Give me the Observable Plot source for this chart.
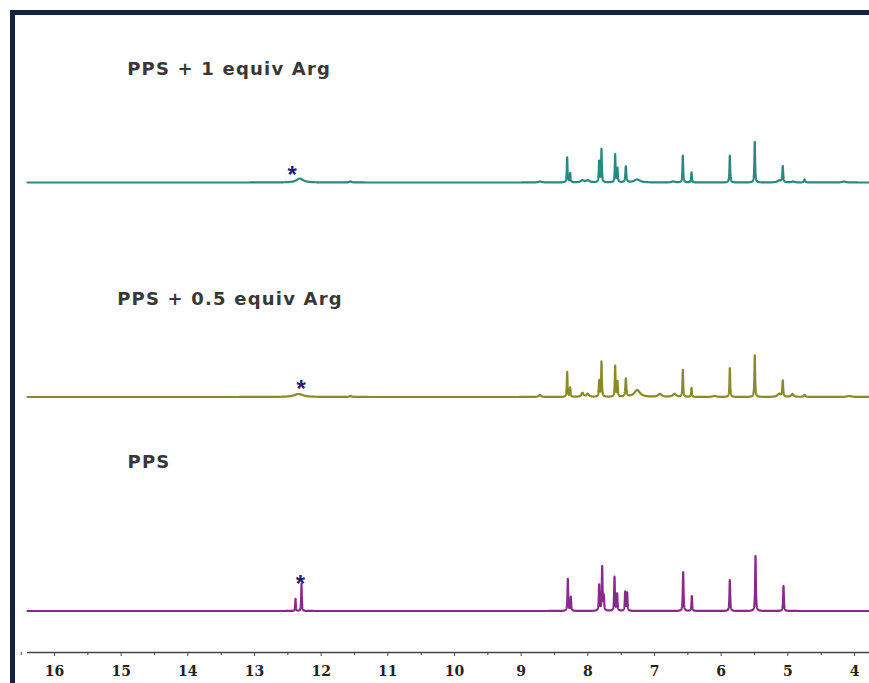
<!DOCTYPE html>
<html>
<head>
<meta charset="utf-8">
<script src="https://cdn.jsdelivr.net/npm/d3@7"></script>
<script src="https://cdn.jsdelivr.net/npm/@observablehq/plot@0.6"></script>
<style>
  html, body { margin: 0; padding: 0; background: #fff; }
  #wrap { position: relative; width: 869px; height: 683px; overflow: hidden; }
  #frame { position: absolute; left: 10px; top: 10px; right: -10px; bottom: -10px;
           border-top: 5px solid #14243f; border-left: 5px solid #14243f; pointer-events: none; }
  #chart { position: absolute; left: 0; top: 0; }
  .lbl text { letter-spacing: 1.2px; }
</style>
</head>
<body>
<div id="wrap"><div id="chart"></div><div id="frame"></div></div>
<script>
// Sample names
const samples = ["PPS + 1 equiv Arg", "PPS + 0.5 equiv Arg", "PPS"];
const colors = ["#2b8782", "#8a8a2c", "#872a8a"];
// Vertical offsets of each trace's baseline (intensity units)
const offsets = [470, 255.5, 41.5];

// Peaks: [ppm, height, half-width (ppm)]
const peaksArg1 = [
  [12.32, 4, 0.06], [11.56, 1, 0.02], [8.715, 1, 0.03],
  [8.31, 25, 0.006], [8.265, 9, 0.006], [8.08, 2, 0.03], [8.0, 2, 0.03],
  [7.83, 21, 0.006], [7.795, 33, 0.006], [7.59, 28, 0.006], [7.555, 14, 0.006],
  [7.43, 16, 0.008], [7.26, 3, 0.05], [6.72, 1, 0.03],
  [6.575, 27, 0.006], [6.445, 10, 0.006], [5.87, 27, 0.006], [5.496, 41, 0.006],
  [5.13, 2, 0.03], [5.076, 16, 0.007], [4.92, 1, 0.02], [4.75, 3, 0.01], [4.16, 1, 0.03]
];
const peaksArg05 = [
  [12.34, 3, 0.08], [11.56, 1, 0.02], [8.72, 2, 0.02],
  [8.31, 25, 0.006], [8.265, 9, 0.006], [8.08, 4, 0.02], [8.0, 3, 0.02],
  [7.83, 16, 0.006], [7.795, 35, 0.006], [7.59, 31, 0.006], [7.555, 15, 0.006],
  [7.43, 18, 0.008], [7.26, 7, 0.05], [6.92, 3, 0.03], [6.70, 3, 0.03],
  [6.575, 27, 0.006], [6.445, 9, 0.006], [6.1, 1, 0.03], [5.87, 29, 0.006],
  [5.496, 42, 0.006], [5.13, 3, 0.03], [5.076, 16, 0.007], [4.93, 3, 0.02],
  [4.75, 2, 0.015], [4.08, 1, 0.04]
];
const peaksPPS = [
  [12.385, 12, 0.005], [12.295, 27, 0.005],
  [8.30, 32, 0.006], [8.255, 14, 0.006], [7.83, 26, 0.006], [7.785, 44, 0.006],
  [7.76, 14, 0.006], [7.60, 34, 0.006], [7.56, 17, 0.006], [7.44, 19, 0.006],
  [7.41, 18, 0.006], [6.57, 39, 0.006], [6.44, 15, 0.006], [5.87, 31, 0.006],
  [5.485, 55, 0.006], [5.065, 25, 0.006]
];
const peakSets = [peaksArg1, peaksArg05, peaksPPS];

// Asterisk markers (ppm, intensity level)
const starPpm = [12.435, 12.30, 12.31];
const starLevel = [484, 269.7, 75];

// Axis ticks
const majorTicks = [16, 15, 14, 13, 12, 11, 10, 9, 8, 7, 6, 5, 4];
const minorTicks = [16.5, 15.5, 14.5, 13.5, 12.5, 11.5, 10.5, 9.5, 8.5, 7.5, 6.5, 5.5, 4.5];

// Label anchors (ppm, level)
const labelPpm = [14.91, 15.06, 14.905];
const labelLevel = [583.5, 353, 190];

// Build traces as sums of Lorentzian lines from the peak lists
const xMin = 3.775, xMax = 16.405;
const rows = [];
peakSets.forEach((peaks, i) => {
  for (let x = xMax; x >= xMin; x -= 0.0015) {
    let s = 0;
    for (const [p, h, w] of peaks) s += h * (w * w) / ((x - p) * (x - p) + w * w);
    rows.push({sample: samples[i], ppm: x, y: offsets[i] + s});
  }
});

const labels = samples.map((s, i) => ({s, x: labelPpm[i], y: labelLevel[i]}));
const stars = starPpm.map((x, i) => ({x, y: starLevel[i]}));

const chart = Plot.plot({
  width: 869,
  height: 683,
  marginLeft: 27,
  marginRight: 0,
  marginTop: 0,
  marginBottom: 31,
  x: {domain: [xMax, xMin]},
  y: {domain: [0, 652], axis: null},
  color: {domain: samples, range: colors},
  style: {background: "transparent"},
  marks: [
    Plot.lineY(rows, {x: "ppm", y: "y", z: "sample", stroke: "sample", strokeWidth: 2.2, strokeLinejoin: "round"}),
    Plot.text(stars, {x: "x", y: "y", text: () => "*", fill: "#1c1c7e", fontSize: 24, fontWeight: "bold", fontFamily: "Liberation Sans", dy: 7}),
    Plot.text(labels, {x: "x", y: "y", text: "s", textAnchor: "start", fill: "#383838", fontSize: 18, fontWeight: "bold", fontFamily: "DejaVu Sans", className: "lbl"}),
    Plot.ruleY([0], {stroke: "#444", strokeWidth: 1.5}),
    Plot.axisX({ticks: minorTicks, tickSize: 3, tickFormat: () => "", stroke: "#444"}),
    Plot.axisX({ticks: majorTicks, tickSize: 4, tickPadding: 10, tickFormat: d => String(d), stroke: "#444",
      fill: "#222", fontSize: 14, fontWeight: "bold", fontFamily: "DejaVu Serif", label: null})
  ]
});
document.getElementById("chart").appendChild(chart);
</script>
</body>
</html>
